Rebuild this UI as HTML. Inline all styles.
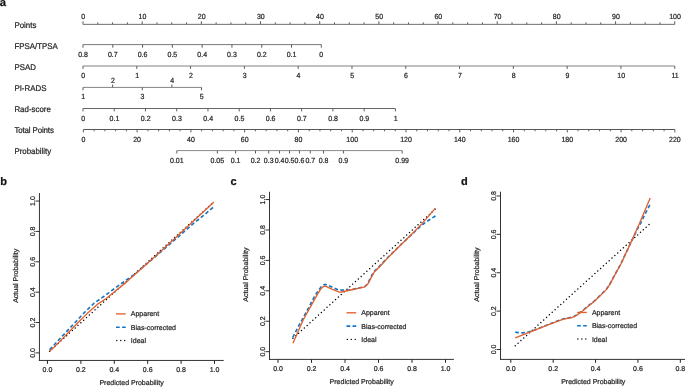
<!DOCTYPE html>
<html><head><meta charset="utf-8"><title>Nomogram and calibration curves</title>
<style>
html,body{margin:0;padding:0;background:#fff;}
body{width:685px;height:387px;overflow:hidden;font-family:"Liberation Sans",sans-serif;}
svg{display:block;will-change:transform;}
svg text{font-family:"Liberation Sans",sans-serif;text-rendering:geometricPrecision;stroke:#262626;stroke-width:0.22px;}
</style></head><body>
<svg width="685" height="387" viewBox="0 0 685 387">

<text transform="translate(14.40 27.60) scale(1 1.06)" font-size="7.9" text-anchor="start" fill="#262626" font-weight="normal">Points</text>
<text transform="translate(14.40 48.50) scale(1 1.06)" font-size="7.9" text-anchor="start" fill="#262626" font-weight="normal">FPSA/TPSA</text>
<text transform="translate(14.40 69.85) scale(1 1.06)" font-size="7.9" text-anchor="start" fill="#262626" font-weight="normal">PSAD</text>
<text transform="translate(14.40 91.15) scale(1 1.06)" font-size="7.9" text-anchor="start" fill="#262626" font-weight="normal">PI-RADS</text>
<text transform="translate(14.40 112.40) scale(1 1.06)" font-size="7.9" text-anchor="start" fill="#262626" font-weight="normal">Rad-score</text>
<text textLength="39.5" lengthAdjust="spacing" transform="translate(14.40 133.45) scale(1 1.06)" font-size="7.9" text-anchor="start" fill="#262626" font-weight="normal">Total Points</text>
<text transform="translate(14.40 153.60) scale(1 1.06)" font-size="7.9" text-anchor="start" fill="#262626" font-weight="normal">Probability</text>
<text x="-0.30" y="6.15" font-size="11.3" text-anchor="start" fill="#111" font-weight="bold">a</text>
<line x1="83.00" y1="24.35" x2="674.75" y2="24.35" stroke="#6e6e6e" stroke-width="1" />
<line x1="83.00" y1="24.35" x2="83.00" y2="21.25" stroke="#5c5c5c" stroke-width="1" />
<text transform="translate(83.30 18.75) scale(1 1.06)" font-size="7.0" text-anchor="middle" fill="#262626" font-weight="normal">0</text>
<line x1="97.79" y1="24.35" x2="97.79" y2="22.35" stroke="#5c5c5c" stroke-width="1" />
<line x1="112.59" y1="24.35" x2="112.59" y2="22.35" stroke="#5c5c5c" stroke-width="1" />
<line x1="127.38" y1="24.35" x2="127.38" y2="22.35" stroke="#5c5c5c" stroke-width="1" />
<line x1="142.18" y1="24.35" x2="142.18" y2="21.25" stroke="#5c5c5c" stroke-width="1" />
<text transform="translate(142.48 18.75) scale(1 1.06)" font-size="7.0" text-anchor="middle" fill="#262626" font-weight="normal">10</text>
<line x1="156.97" y1="24.35" x2="156.97" y2="22.35" stroke="#5c5c5c" stroke-width="1" />
<line x1="171.76" y1="24.35" x2="171.76" y2="22.35" stroke="#5c5c5c" stroke-width="1" />
<line x1="186.56" y1="24.35" x2="186.56" y2="22.35" stroke="#5c5c5c" stroke-width="1" />
<line x1="201.35" y1="24.35" x2="201.35" y2="21.25" stroke="#5c5c5c" stroke-width="1" />
<text transform="translate(201.65 18.75) scale(1 1.06)" font-size="7.0" text-anchor="middle" fill="#262626" font-weight="normal">20</text>
<line x1="216.14" y1="24.35" x2="216.14" y2="22.35" stroke="#5c5c5c" stroke-width="1" />
<line x1="230.94" y1="24.35" x2="230.94" y2="22.35" stroke="#5c5c5c" stroke-width="1" />
<line x1="245.73" y1="24.35" x2="245.73" y2="22.35" stroke="#5c5c5c" stroke-width="1" />
<line x1="260.52" y1="24.35" x2="260.52" y2="21.25" stroke="#5c5c5c" stroke-width="1" />
<text transform="translate(260.82 18.75) scale(1 1.06)" font-size="7.0" text-anchor="middle" fill="#262626" font-weight="normal">30</text>
<line x1="275.32" y1="24.35" x2="275.32" y2="22.35" stroke="#5c5c5c" stroke-width="1" />
<line x1="290.11" y1="24.35" x2="290.11" y2="22.35" stroke="#5c5c5c" stroke-width="1" />
<line x1="304.91" y1="24.35" x2="304.91" y2="22.35" stroke="#5c5c5c" stroke-width="1" />
<line x1="319.70" y1="24.35" x2="319.70" y2="21.25" stroke="#5c5c5c" stroke-width="1" />
<text transform="translate(320.00 18.75) scale(1 1.06)" font-size="7.0" text-anchor="middle" fill="#262626" font-weight="normal">40</text>
<line x1="334.49" y1="24.35" x2="334.49" y2="22.35" stroke="#5c5c5c" stroke-width="1" />
<line x1="349.29" y1="24.35" x2="349.29" y2="22.35" stroke="#5c5c5c" stroke-width="1" />
<line x1="364.08" y1="24.35" x2="364.08" y2="22.35" stroke="#5c5c5c" stroke-width="1" />
<line x1="378.88" y1="24.35" x2="378.88" y2="21.25" stroke="#5c5c5c" stroke-width="1" />
<text transform="translate(379.18 18.75) scale(1 1.06)" font-size="7.0" text-anchor="middle" fill="#262626" font-weight="normal">50</text>
<line x1="393.67" y1="24.35" x2="393.67" y2="22.35" stroke="#5c5c5c" stroke-width="1" />
<line x1="408.46" y1="24.35" x2="408.46" y2="22.35" stroke="#5c5c5c" stroke-width="1" />
<line x1="423.26" y1="24.35" x2="423.26" y2="22.35" stroke="#5c5c5c" stroke-width="1" />
<line x1="438.05" y1="24.35" x2="438.05" y2="21.25" stroke="#5c5c5c" stroke-width="1" />
<text transform="translate(438.35 18.75) scale(1 1.06)" font-size="7.0" text-anchor="middle" fill="#262626" font-weight="normal">60</text>
<line x1="452.84" y1="24.35" x2="452.84" y2="22.35" stroke="#5c5c5c" stroke-width="1" />
<line x1="467.64" y1="24.35" x2="467.64" y2="22.35" stroke="#5c5c5c" stroke-width="1" />
<line x1="482.43" y1="24.35" x2="482.43" y2="22.35" stroke="#5c5c5c" stroke-width="1" />
<line x1="497.23" y1="24.35" x2="497.23" y2="21.25" stroke="#5c5c5c" stroke-width="1" />
<text transform="translate(497.53 18.75) scale(1 1.06)" font-size="7.0" text-anchor="middle" fill="#262626" font-weight="normal">70</text>
<line x1="512.02" y1="24.35" x2="512.02" y2="22.35" stroke="#5c5c5c" stroke-width="1" />
<line x1="526.81" y1="24.35" x2="526.81" y2="22.35" stroke="#5c5c5c" stroke-width="1" />
<line x1="541.61" y1="24.35" x2="541.61" y2="22.35" stroke="#5c5c5c" stroke-width="1" />
<line x1="556.40" y1="24.35" x2="556.40" y2="21.25" stroke="#5c5c5c" stroke-width="1" />
<text transform="translate(556.70 18.75) scale(1 1.06)" font-size="7.0" text-anchor="middle" fill="#262626" font-weight="normal">80</text>
<line x1="571.19" y1="24.35" x2="571.19" y2="22.35" stroke="#5c5c5c" stroke-width="1" />
<line x1="585.99" y1="24.35" x2="585.99" y2="22.35" stroke="#5c5c5c" stroke-width="1" />
<line x1="600.78" y1="24.35" x2="600.78" y2="22.35" stroke="#5c5c5c" stroke-width="1" />
<line x1="615.58" y1="24.35" x2="615.58" y2="21.25" stroke="#5c5c5c" stroke-width="1" />
<text transform="translate(615.88 18.75) scale(1 1.06)" font-size="7.0" text-anchor="middle" fill="#262626" font-weight="normal">90</text>
<line x1="630.37" y1="24.35" x2="630.37" y2="22.35" stroke="#5c5c5c" stroke-width="1" />
<line x1="645.16" y1="24.35" x2="645.16" y2="22.35" stroke="#5c5c5c" stroke-width="1" />
<line x1="659.96" y1="24.35" x2="659.96" y2="22.35" stroke="#5c5c5c" stroke-width="1" />
<line x1="674.75" y1="24.35" x2="674.75" y2="21.25" stroke="#5c5c5c" stroke-width="1" />
<text transform="translate(675.05 18.75) scale(1 1.06)" font-size="7.0" text-anchor="middle" fill="#262626" font-weight="normal">100</text>
<line x1="83.00" y1="44.60" x2="321.32" y2="44.60" stroke="#7a7a7a" stroke-width="1" />
<line x1="83.00" y1="44.60" x2="83.00" y2="47.70" stroke="#5c5c5c" stroke-width="1" />
<text transform="translate(83.00 57.10) scale(1 1.06)" font-size="7.0" text-anchor="middle" fill="#262626" font-weight="normal">0.8</text>
<line x1="112.79" y1="44.60" x2="112.79" y2="47.70" stroke="#5c5c5c" stroke-width="1" />
<text transform="translate(112.79 57.10) scale(1 1.06)" font-size="7.0" text-anchor="middle" fill="#262626" font-weight="normal">0.7</text>
<line x1="142.58" y1="44.60" x2="142.58" y2="47.70" stroke="#5c5c5c" stroke-width="1" />
<text transform="translate(142.58 57.10) scale(1 1.06)" font-size="7.0" text-anchor="middle" fill="#262626" font-weight="normal">0.6</text>
<line x1="172.37" y1="44.60" x2="172.37" y2="47.70" stroke="#5c5c5c" stroke-width="1" />
<text transform="translate(172.37 57.10) scale(1 1.06)" font-size="7.0" text-anchor="middle" fill="#262626" font-weight="normal">0.5</text>
<line x1="202.16" y1="44.60" x2="202.16" y2="47.70" stroke="#5c5c5c" stroke-width="1" />
<text transform="translate(202.16 57.10) scale(1 1.06)" font-size="7.0" text-anchor="middle" fill="#262626" font-weight="normal">0.4</text>
<line x1="231.95" y1="44.60" x2="231.95" y2="47.70" stroke="#5c5c5c" stroke-width="1" />
<text transform="translate(231.95 57.10) scale(1 1.06)" font-size="7.0" text-anchor="middle" fill="#262626" font-weight="normal">0.3</text>
<line x1="261.74" y1="44.60" x2="261.74" y2="47.70" stroke="#5c5c5c" stroke-width="1" />
<text transform="translate(261.74 57.10) scale(1 1.06)" font-size="7.0" text-anchor="middle" fill="#262626" font-weight="normal">0.2</text>
<line x1="291.53" y1="44.60" x2="291.53" y2="47.70" stroke="#5c5c5c" stroke-width="1" />
<text transform="translate(291.53 57.10) scale(1 1.06)" font-size="7.0" text-anchor="middle" fill="#262626" font-weight="normal">0.1</text>
<line x1="321.32" y1="44.60" x2="321.32" y2="47.70" stroke="#5c5c5c" stroke-width="1" />
<text transform="translate(321.32 57.10) scale(1 1.06)" font-size="7.0" text-anchor="middle" fill="#262626" font-weight="normal">0</text>
<line x1="83.00" y1="66.00" x2="674.75" y2="66.00" stroke="#818181" stroke-width="1" />
<line x1="83.00" y1="66.00" x2="83.00" y2="68.90" stroke="#5c5c5c" stroke-width="1" />
<text transform="translate(83.30 78.20) scale(1 1.06)" font-size="7.0" text-anchor="middle" fill="#262626" font-weight="normal">0</text>
<line x1="136.80" y1="66.00" x2="136.80" y2="68.90" stroke="#5c5c5c" stroke-width="1" />
<text transform="translate(137.10 78.20) scale(1 1.06)" font-size="7.0" text-anchor="middle" fill="#262626" font-weight="normal">1</text>
<line x1="190.59" y1="66.00" x2="190.59" y2="68.90" stroke="#5c5c5c" stroke-width="1" />
<text transform="translate(190.89 78.20) scale(1 1.06)" font-size="7.0" text-anchor="middle" fill="#262626" font-weight="normal">2</text>
<line x1="244.39" y1="66.00" x2="244.39" y2="68.90" stroke="#5c5c5c" stroke-width="1" />
<text transform="translate(244.69 78.20) scale(1 1.06)" font-size="7.0" text-anchor="middle" fill="#262626" font-weight="normal">3</text>
<line x1="298.18" y1="66.00" x2="298.18" y2="68.90" stroke="#5c5c5c" stroke-width="1" />
<text transform="translate(298.48 78.20) scale(1 1.06)" font-size="7.0" text-anchor="middle" fill="#262626" font-weight="normal">4</text>
<line x1="351.98" y1="66.00" x2="351.98" y2="68.90" stroke="#5c5c5c" stroke-width="1" />
<text transform="translate(352.28 78.20) scale(1 1.06)" font-size="7.0" text-anchor="middle" fill="#262626" font-weight="normal">5</text>
<line x1="405.77" y1="66.00" x2="405.77" y2="68.90" stroke="#5c5c5c" stroke-width="1" />
<text transform="translate(406.07 78.20) scale(1 1.06)" font-size="7.0" text-anchor="middle" fill="#262626" font-weight="normal">6</text>
<line x1="459.57" y1="66.00" x2="459.57" y2="68.90" stroke="#5c5c5c" stroke-width="1" />
<text transform="translate(459.87 78.20) scale(1 1.06)" font-size="7.0" text-anchor="middle" fill="#262626" font-weight="normal">7</text>
<line x1="513.36" y1="66.00" x2="513.36" y2="68.90" stroke="#5c5c5c" stroke-width="1" />
<text transform="translate(513.66 78.20) scale(1 1.06)" font-size="7.0" text-anchor="middle" fill="#262626" font-weight="normal">8</text>
<line x1="567.16" y1="66.00" x2="567.16" y2="68.90" stroke="#5c5c5c" stroke-width="1" />
<text transform="translate(567.46 78.20) scale(1 1.06)" font-size="7.0" text-anchor="middle" fill="#262626" font-weight="normal">9</text>
<line x1="620.95" y1="66.00" x2="620.95" y2="68.90" stroke="#5c5c5c" stroke-width="1" />
<text transform="translate(621.25 78.20) scale(1 1.06)" font-size="7.0" text-anchor="middle" fill="#262626" font-weight="normal">10</text>
<line x1="674.75" y1="66.00" x2="674.75" y2="68.90" stroke="#5c5c5c" stroke-width="1" />
<text transform="translate(675.05 78.20) scale(1 1.06)" font-size="7.0" text-anchor="middle" fill="#262626" font-weight="normal">11</text>
<line x1="83.00" y1="87.40" x2="201.52" y2="87.40" stroke="#858585" stroke-width="1" />
<line x1="83.00" y1="87.40" x2="83.00" y2="90.30" stroke="#5c5c5c" stroke-width="1" />
<text transform="translate(83.20 99.40) scale(1 1.06)" font-size="7.0" text-anchor="middle" fill="#262626" font-weight="normal">1</text>
<line x1="112.63" y1="87.40" x2="112.63" y2="84.50" stroke="#5c5c5c" stroke-width="1" />
<text transform="translate(112.83 82.50) scale(1 1.06)" font-size="7.0" text-anchor="middle" fill="#262626" font-weight="normal">2</text>
<line x1="142.26" y1="87.40" x2="142.26" y2="90.30" stroke="#5c5c5c" stroke-width="1" />
<text transform="translate(142.46 99.40) scale(1 1.06)" font-size="7.0" text-anchor="middle" fill="#262626" font-weight="normal">3</text>
<line x1="171.89" y1="87.40" x2="171.89" y2="84.50" stroke="#5c5c5c" stroke-width="1" />
<text transform="translate(172.09 82.50) scale(1 1.06)" font-size="7.0" text-anchor="middle" fill="#262626" font-weight="normal">4</text>
<line x1="201.52" y1="87.40" x2="201.52" y2="90.30" stroke="#5c5c5c" stroke-width="1" />
<text transform="translate(201.72 99.40) scale(1 1.06)" font-size="7.0" text-anchor="middle" fill="#262626" font-weight="normal">5</text>
<line x1="83.00" y1="108.50" x2="395.40" y2="108.50" stroke="#666666" stroke-width="1" />
<line x1="83.00" y1="108.50" x2="83.00" y2="111.40" stroke="#5c5c5c" stroke-width="1" />
<text transform="translate(83.20 120.80) scale(1 1.06)" font-size="7.0" text-anchor="middle" fill="#262626" font-weight="normal">0</text>
<line x1="114.24" y1="108.50" x2="114.24" y2="111.40" stroke="#5c5c5c" stroke-width="1" />
<text transform="translate(114.44 120.80) scale(1 1.06)" font-size="7.0" text-anchor="middle" fill="#262626" font-weight="normal">0.1</text>
<line x1="145.48" y1="108.50" x2="145.48" y2="111.40" stroke="#5c5c5c" stroke-width="1" />
<text transform="translate(145.68 120.80) scale(1 1.06)" font-size="7.0" text-anchor="middle" fill="#262626" font-weight="normal">0.2</text>
<line x1="176.72" y1="108.50" x2="176.72" y2="111.40" stroke="#5c5c5c" stroke-width="1" />
<text transform="translate(176.92 120.80) scale(1 1.06)" font-size="7.0" text-anchor="middle" fill="#262626" font-weight="normal">0.3</text>
<line x1="207.96" y1="108.50" x2="207.96" y2="111.40" stroke="#5c5c5c" stroke-width="1" />
<text transform="translate(208.16 120.80) scale(1 1.06)" font-size="7.0" text-anchor="middle" fill="#262626" font-weight="normal">0.4</text>
<line x1="239.20" y1="108.50" x2="239.20" y2="111.40" stroke="#5c5c5c" stroke-width="1" />
<text transform="translate(239.40 120.80) scale(1 1.06)" font-size="7.0" text-anchor="middle" fill="#262626" font-weight="normal">0.5</text>
<line x1="270.44" y1="108.50" x2="270.44" y2="111.40" stroke="#5c5c5c" stroke-width="1" />
<text transform="translate(270.64 120.80) scale(1 1.06)" font-size="7.0" text-anchor="middle" fill="#262626" font-weight="normal">0.6</text>
<line x1="301.68" y1="108.50" x2="301.68" y2="111.40" stroke="#5c5c5c" stroke-width="1" />
<text transform="translate(301.88 120.80) scale(1 1.06)" font-size="7.0" text-anchor="middle" fill="#262626" font-weight="normal">0.7</text>
<line x1="332.92" y1="108.50" x2="332.92" y2="111.40" stroke="#5c5c5c" stroke-width="1" />
<text transform="translate(333.12 120.80) scale(1 1.06)" font-size="7.0" text-anchor="middle" fill="#262626" font-weight="normal">0.8</text>
<line x1="364.16" y1="108.50" x2="364.16" y2="111.40" stroke="#5c5c5c" stroke-width="1" />
<text transform="translate(364.36 120.80) scale(1 1.06)" font-size="7.0" text-anchor="middle" fill="#262626" font-weight="normal">0.9</text>
<line x1="395.40" y1="108.50" x2="395.40" y2="111.40" stroke="#5c5c5c" stroke-width="1" />
<text transform="translate(395.60 120.80) scale(1 1.06)" font-size="7.0" text-anchor="middle" fill="#262626" font-weight="normal">1</text>
<line x1="83.35" y1="129.50" x2="674.85" y2="129.50" stroke="#585858" stroke-width="1" />
<line x1="83.35" y1="129.50" x2="83.35" y2="132.40" stroke="#5c5c5c" stroke-width="1" />
<text transform="translate(83.35 141.80) scale(1 1.06)" font-size="7.0" text-anchor="middle" fill="#262626" font-weight="normal">0</text>
<line x1="94.10" y1="129.50" x2="94.10" y2="131.30" stroke="#5c5c5c" stroke-width="1" />
<line x1="104.86" y1="129.50" x2="104.86" y2="131.30" stroke="#5c5c5c" stroke-width="1" />
<line x1="115.61" y1="129.50" x2="115.61" y2="131.30" stroke="#5c5c5c" stroke-width="1" />
<line x1="126.37" y1="129.50" x2="126.37" y2="131.30" stroke="#5c5c5c" stroke-width="1" />
<line x1="137.12" y1="129.50" x2="137.12" y2="132.40" stroke="#5c5c5c" stroke-width="1" />
<text transform="translate(137.12 141.80) scale(1 1.06)" font-size="7.0" text-anchor="middle" fill="#262626" font-weight="normal">20</text>
<line x1="147.88" y1="129.50" x2="147.88" y2="131.30" stroke="#5c5c5c" stroke-width="1" />
<line x1="158.63" y1="129.50" x2="158.63" y2="131.30" stroke="#5c5c5c" stroke-width="1" />
<line x1="169.39" y1="129.50" x2="169.39" y2="131.30" stroke="#5c5c5c" stroke-width="1" />
<line x1="180.14" y1="129.50" x2="180.14" y2="131.30" stroke="#5c5c5c" stroke-width="1" />
<line x1="190.90" y1="129.50" x2="190.90" y2="132.40" stroke="#5c5c5c" stroke-width="1" />
<text transform="translate(190.90 141.80) scale(1 1.06)" font-size="7.0" text-anchor="middle" fill="#262626" font-weight="normal">40</text>
<line x1="201.65" y1="129.50" x2="201.65" y2="131.30" stroke="#5c5c5c" stroke-width="1" />
<line x1="212.40" y1="129.50" x2="212.40" y2="131.30" stroke="#5c5c5c" stroke-width="1" />
<line x1="223.16" y1="129.50" x2="223.16" y2="131.30" stroke="#5c5c5c" stroke-width="1" />
<line x1="233.91" y1="129.50" x2="233.91" y2="131.30" stroke="#5c5c5c" stroke-width="1" />
<line x1="244.67" y1="129.50" x2="244.67" y2="132.40" stroke="#5c5c5c" stroke-width="1" />
<text transform="translate(244.67 141.80) scale(1 1.06)" font-size="7.0" text-anchor="middle" fill="#262626" font-weight="normal">60</text>
<line x1="255.42" y1="129.50" x2="255.42" y2="131.30" stroke="#5c5c5c" stroke-width="1" />
<line x1="266.18" y1="129.50" x2="266.18" y2="131.30" stroke="#5c5c5c" stroke-width="1" />
<line x1="276.93" y1="129.50" x2="276.93" y2="131.30" stroke="#5c5c5c" stroke-width="1" />
<line x1="287.69" y1="129.50" x2="287.69" y2="131.30" stroke="#5c5c5c" stroke-width="1" />
<line x1="298.44" y1="129.50" x2="298.44" y2="132.40" stroke="#5c5c5c" stroke-width="1" />
<text transform="translate(298.44 141.80) scale(1 1.06)" font-size="7.0" text-anchor="middle" fill="#262626" font-weight="normal">80</text>
<line x1="309.20" y1="129.50" x2="309.20" y2="131.30" stroke="#5c5c5c" stroke-width="1" />
<line x1="319.95" y1="129.50" x2="319.95" y2="131.30" stroke="#5c5c5c" stroke-width="1" />
<line x1="330.70" y1="129.50" x2="330.70" y2="131.30" stroke="#5c5c5c" stroke-width="1" />
<line x1="341.46" y1="129.50" x2="341.46" y2="131.30" stroke="#5c5c5c" stroke-width="1" />
<line x1="352.21" y1="129.50" x2="352.21" y2="132.40" stroke="#5c5c5c" stroke-width="1" />
<text transform="translate(352.21 141.80) scale(1 1.06)" font-size="7.0" text-anchor="middle" fill="#262626" font-weight="normal">100</text>
<line x1="362.97" y1="129.50" x2="362.97" y2="131.30" stroke="#5c5c5c" stroke-width="1" />
<line x1="373.72" y1="129.50" x2="373.72" y2="131.30" stroke="#5c5c5c" stroke-width="1" />
<line x1="384.48" y1="129.50" x2="384.48" y2="131.30" stroke="#5c5c5c" stroke-width="1" />
<line x1="395.23" y1="129.50" x2="395.23" y2="131.30" stroke="#5c5c5c" stroke-width="1" />
<line x1="405.99" y1="129.50" x2="405.99" y2="132.40" stroke="#5c5c5c" stroke-width="1" />
<text transform="translate(405.99 141.80) scale(1 1.06)" font-size="7.0" text-anchor="middle" fill="#262626" font-weight="normal">120</text>
<line x1="416.74" y1="129.50" x2="416.74" y2="131.30" stroke="#5c5c5c" stroke-width="1" />
<line x1="427.50" y1="129.50" x2="427.50" y2="131.30" stroke="#5c5c5c" stroke-width="1" />
<line x1="438.25" y1="129.50" x2="438.25" y2="131.30" stroke="#5c5c5c" stroke-width="1" />
<line x1="449.00" y1="129.50" x2="449.00" y2="131.30" stroke="#5c5c5c" stroke-width="1" />
<line x1="459.76" y1="129.50" x2="459.76" y2="132.40" stroke="#5c5c5c" stroke-width="1" />
<text transform="translate(459.76 141.80) scale(1 1.06)" font-size="7.0" text-anchor="middle" fill="#262626" font-weight="normal">140</text>
<line x1="470.51" y1="129.50" x2="470.51" y2="131.30" stroke="#5c5c5c" stroke-width="1" />
<line x1="481.27" y1="129.50" x2="481.27" y2="131.30" stroke="#5c5c5c" stroke-width="1" />
<line x1="492.02" y1="129.50" x2="492.02" y2="131.30" stroke="#5c5c5c" stroke-width="1" />
<line x1="502.78" y1="129.50" x2="502.78" y2="131.30" stroke="#5c5c5c" stroke-width="1" />
<line x1="513.53" y1="129.50" x2="513.53" y2="132.40" stroke="#5c5c5c" stroke-width="1" />
<text transform="translate(513.53 141.80) scale(1 1.06)" font-size="7.0" text-anchor="middle" fill="#262626" font-weight="normal">160</text>
<line x1="524.29" y1="129.50" x2="524.29" y2="131.30" stroke="#5c5c5c" stroke-width="1" />
<line x1="535.04" y1="129.50" x2="535.04" y2="131.30" stroke="#5c5c5c" stroke-width="1" />
<line x1="545.80" y1="129.50" x2="545.80" y2="131.30" stroke="#5c5c5c" stroke-width="1" />
<line x1="556.55" y1="129.50" x2="556.55" y2="131.30" stroke="#5c5c5c" stroke-width="1" />
<line x1="567.30" y1="129.50" x2="567.30" y2="132.40" stroke="#5c5c5c" stroke-width="1" />
<text transform="translate(567.30 141.80) scale(1 1.06)" font-size="7.0" text-anchor="middle" fill="#262626" font-weight="normal">180</text>
<line x1="578.06" y1="129.50" x2="578.06" y2="131.30" stroke="#5c5c5c" stroke-width="1" />
<line x1="588.81" y1="129.50" x2="588.81" y2="131.30" stroke="#5c5c5c" stroke-width="1" />
<line x1="599.57" y1="129.50" x2="599.57" y2="131.30" stroke="#5c5c5c" stroke-width="1" />
<line x1="610.32" y1="129.50" x2="610.32" y2="131.30" stroke="#5c5c5c" stroke-width="1" />
<line x1="621.08" y1="129.50" x2="621.08" y2="132.40" stroke="#5c5c5c" stroke-width="1" />
<text transform="translate(621.08 141.80) scale(1 1.06)" font-size="7.0" text-anchor="middle" fill="#262626" font-weight="normal">200</text>
<line x1="631.83" y1="129.50" x2="631.83" y2="131.30" stroke="#5c5c5c" stroke-width="1" />
<line x1="642.59" y1="129.50" x2="642.59" y2="131.30" stroke="#5c5c5c" stroke-width="1" />
<line x1="653.34" y1="129.50" x2="653.34" y2="131.30" stroke="#5c5c5c" stroke-width="1" />
<line x1="664.10" y1="129.50" x2="664.10" y2="131.30" stroke="#5c5c5c" stroke-width="1" />
<line x1="674.85" y1="129.50" x2="674.85" y2="132.40" stroke="#5c5c5c" stroke-width="1" />
<text transform="translate(674.85 141.80) scale(1 1.06)" font-size="7.0" text-anchor="middle" fill="#262626" font-weight="normal">220</text>
<line x1="176.83" y1="150.60" x2="402.17" y2="150.60" stroke="#8a8a8a" stroke-width="1" />
<line x1="176.83" y1="150.60" x2="176.83" y2="153.50" stroke="#5c5c5c" stroke-width="1" />
<text transform="translate(176.83 163.10) scale(1 1.06)" font-size="7.0" text-anchor="middle" fill="#262626" font-weight="normal">0.01</text>
<line x1="217.30" y1="150.60" x2="217.30" y2="153.50" stroke="#5c5c5c" stroke-width="1" />
<text transform="translate(217.30 163.10) scale(1 1.06)" font-size="7.0" text-anchor="middle" fill="#262626" font-weight="normal">0.05</text>
<line x1="235.62" y1="150.60" x2="235.62" y2="153.50" stroke="#5c5c5c" stroke-width="1" />
<text transform="translate(235.62 163.10) scale(1 1.06)" font-size="7.0" text-anchor="middle" fill="#262626" font-weight="normal">0.1</text>
<line x1="255.51" y1="150.60" x2="255.51" y2="153.50" stroke="#5c5c5c" stroke-width="1" />
<text transform="translate(255.51 163.10) scale(1 1.06)" font-size="7.0" text-anchor="middle" fill="#262626" font-weight="normal">0.2</text>
<line x1="268.72" y1="150.60" x2="268.72" y2="153.50" stroke="#5c5c5c" stroke-width="1" />
<text transform="translate(268.72 163.10) scale(1 1.06)" font-size="7.0" text-anchor="middle" fill="#262626" font-weight="normal">0.3</text>
<line x1="279.56" y1="150.60" x2="279.56" y2="153.50" stroke="#5c5c5c" stroke-width="1" />
<text transform="translate(279.56 163.10) scale(1 1.06)" font-size="7.0" text-anchor="middle" fill="#262626" font-weight="normal">0.4</text>
<line x1="289.50" y1="150.60" x2="289.50" y2="153.50" stroke="#5c5c5c" stroke-width="1" />
<text transform="translate(289.50 163.10) scale(1 1.06)" font-size="7.0" text-anchor="middle" fill="#262626" font-weight="normal">0.5</text>
<line x1="299.44" y1="150.60" x2="299.44" y2="153.50" stroke="#5c5c5c" stroke-width="1" />
<text transform="translate(299.44 163.10) scale(1 1.06)" font-size="7.0" text-anchor="middle" fill="#262626" font-weight="normal">0.6</text>
<line x1="310.28" y1="150.60" x2="310.28" y2="153.50" stroke="#5c5c5c" stroke-width="1" />
<text transform="translate(310.28 163.10) scale(1 1.06)" font-size="7.0" text-anchor="middle" fill="#262626" font-weight="normal">0.7</text>
<line x1="323.49" y1="150.60" x2="323.49" y2="153.50" stroke="#5c5c5c" stroke-width="1" />
<text transform="translate(323.49 163.10) scale(1 1.06)" font-size="7.0" text-anchor="middle" fill="#262626" font-weight="normal">0.8</text>
<line x1="343.38" y1="150.60" x2="343.38" y2="153.50" stroke="#5c5c5c" stroke-width="1" />
<text transform="translate(343.38 163.10) scale(1 1.06)" font-size="7.0" text-anchor="middle" fill="#262626" font-weight="normal">0.9</text>
<line x1="402.17" y1="150.60" x2="402.17" y2="153.50" stroke="#5c5c5c" stroke-width="1" />
<text transform="translate(402.17 163.10) scale(1 1.06)" font-size="7.0" text-anchor="middle" fill="#262626" font-weight="normal">0.99</text>
<text x="0.30" y="185.00" font-size="11" text-anchor="start" fill="#111" font-weight="bold">b</text>
<line x1="39.45" y1="193.00" x2="39.45" y2="360.95" stroke="#333333" stroke-width="1" />
<line x1="38.95" y1="360.45" x2="223.70" y2="360.45" stroke="#333333" stroke-width="1" />
<line x1="35.55" y1="352.90" x2="39.45" y2="352.90" stroke="#1c1c1c" stroke-width="0.9" />
<text x="34.85" y="352.90" font-size="7.0" text-anchor="middle" fill="#262626" font-weight="normal" transform="rotate(-90 34.85 352.90)">0.0</text>
<line x1="35.55" y1="322.53" x2="39.45" y2="322.53" stroke="#1c1c1c" stroke-width="0.9" />
<text x="34.85" y="322.53" font-size="7.0" text-anchor="middle" fill="#262626" font-weight="normal" transform="rotate(-90 34.85 322.53)">0.2</text>
<line x1="35.55" y1="292.16" x2="39.45" y2="292.16" stroke="#1c1c1c" stroke-width="0.9" />
<text x="34.85" y="292.16" font-size="7.0" text-anchor="middle" fill="#262626" font-weight="normal" transform="rotate(-90 34.85 292.16)">0.4</text>
<line x1="35.55" y1="261.79" x2="39.45" y2="261.79" stroke="#1c1c1c" stroke-width="0.9" />
<text x="34.85" y="261.79" font-size="7.0" text-anchor="middle" fill="#262626" font-weight="normal" transform="rotate(-90 34.85 261.79)">0.6</text>
<line x1="35.55" y1="231.42" x2="39.45" y2="231.42" stroke="#1c1c1c" stroke-width="0.9" />
<text x="34.85" y="231.42" font-size="7.0" text-anchor="middle" fill="#262626" font-weight="normal" transform="rotate(-90 34.85 231.42)">0.8</text>
<line x1="35.55" y1="201.05" x2="39.45" y2="201.05" stroke="#1c1c1c" stroke-width="0.9" />
<text x="34.85" y="201.05" font-size="7.0" text-anchor="middle" fill="#262626" font-weight="normal" transform="rotate(-90 34.85 201.05)">1.0</text>
<line x1="47.45" y1="360.45" x2="47.45" y2="363.85" stroke="#222" stroke-width="1" />
<text x="47.45" y="372.45" font-size="7.0" text-anchor="middle" fill="#262626" font-weight="normal">0.0</text>
<line x1="80.86" y1="360.45" x2="80.86" y2="363.85" stroke="#222" stroke-width="1" />
<text x="80.86" y="372.45" font-size="7.0" text-anchor="middle" fill="#262626" font-weight="normal">0.2</text>
<line x1="114.27" y1="360.45" x2="114.27" y2="363.85" stroke="#222" stroke-width="1" />
<text x="114.27" y="372.45" font-size="7.0" text-anchor="middle" fill="#262626" font-weight="normal">0.4</text>
<line x1="147.68" y1="360.45" x2="147.68" y2="363.85" stroke="#222" stroke-width="1" />
<text x="147.68" y="372.45" font-size="7.0" text-anchor="middle" fill="#262626" font-weight="normal">0.6</text>
<line x1="181.09" y1="360.45" x2="181.09" y2="363.85" stroke="#222" stroke-width="1" />
<text x="181.09" y="372.45" font-size="7.0" text-anchor="middle" fill="#262626" font-weight="normal">0.8</text>
<line x1="214.50" y1="360.45" x2="214.50" y2="363.85" stroke="#222" stroke-width="1" />
<text x="214.50" y="372.45" font-size="7.0" text-anchor="middle" fill="#262626" font-weight="normal">1.0</text>
<text x="131.57" y="385.45" font-size="7.0" text-anchor="middle" fill="#262626" font-weight="normal">Predicted Probability</text>
<text x="17.70" y="275.78" font-size="7.0" text-anchor="middle" fill="#262626" font-weight="normal" transform="rotate(-90 17.70 275.78)">Actual Probability</text>
<path d="M49.60,351.19 L213.97,201.79" fill="none" stroke="#000" stroke-width="1.4" stroke-linejoin="round" stroke-linecap="round" stroke-dasharray="0.01,3.83"/>
<path d="M49.60,349.64 L54.75,344.20 L76.52,320.94 L84.87,312.05 L94.22,303.09 L104.08,296.26 L109.76,292.01 L115.11,288.11 L120.20,284.42 L125.21,280.70 L130.59,277.01 L135.99,273.33 L140.16,269.31 L147.68,263.23 L169.23,244.69 L192.45,224.33 L198.51,219.50 L203.56,215.48 L208.27,211.45 L214.30,206.41" fill="none" stroke="#1174c4" stroke-width="1.6" stroke-linejoin="round" stroke-linecap="butt" stroke-dasharray="3.7,2.4"/>
<path d="M49.60,351.31 L55.40,345.90 L80.59,319.99 L86.87,313.87 L97.56,304.16 L105.92,298.69 L126.70,281.86 L155.60,256.00 L175.29,238.00 L192.45,221.90 L213.97,201.90" fill="none" stroke="#e2602f" stroke-width="1.35" stroke-linejoin="round" stroke-linecap="butt"/>
<line x1="116.00" y1="313.90" x2="125.70" y2="313.90" stroke="#e2602f" stroke-width="1.35" />
<line x1="116.00" y1="327.20" x2="125.70" y2="327.20" stroke="#1174c4" stroke-width="1.6" stroke-dasharray="3.7,2.4"/>
<line x1="116.80" y1="340.50" x2="126.20" y2="340.50" stroke="#000" stroke-width="1.4" stroke-dasharray="0.01,3.95" stroke-linecap="round"/>
<text x="130.80" y="316.40" font-size="7.0" text-anchor="start" fill="#262626" font-weight="normal">Apparent</text>
<text x="130.80" y="329.70" font-size="7.0" text-anchor="start" fill="#262626" font-weight="normal">Bias-corrected</text>
<text x="130.80" y="343.00" font-size="7.0" text-anchor="start" fill="#262626" font-weight="normal">Ideal</text>
<text x="230.50" y="185.35" font-size="11" text-anchor="start" fill="#111" font-weight="bold">c</text>
<line x1="269.50" y1="191.80" x2="269.50" y2="359.90" stroke="#333333" stroke-width="1" />
<line x1="269.00" y1="359.40" x2="453.90" y2="359.40" stroke="#333333" stroke-width="1" />
<line x1="265.60" y1="351.66" x2="269.50" y2="351.66" stroke="#1c1c1c" stroke-width="0.9" />
<text x="264.90" y="351.66" font-size="7.0" text-anchor="middle" fill="#262626" font-weight="normal" transform="rotate(-90 264.90 351.66)">0.0</text>
<line x1="265.60" y1="321.24" x2="269.50" y2="321.24" stroke="#1c1c1c" stroke-width="0.9" />
<text x="264.90" y="321.24" font-size="7.0" text-anchor="middle" fill="#262626" font-weight="normal" transform="rotate(-90 264.90 321.24)">0.2</text>
<line x1="265.60" y1="290.82" x2="269.50" y2="290.82" stroke="#1c1c1c" stroke-width="0.9" />
<text x="264.90" y="290.82" font-size="7.0" text-anchor="middle" fill="#262626" font-weight="normal" transform="rotate(-90 264.90 290.82)">0.4</text>
<line x1="265.60" y1="260.40" x2="269.50" y2="260.40" stroke="#1c1c1c" stroke-width="0.9" />
<text x="264.90" y="260.40" font-size="7.0" text-anchor="middle" fill="#262626" font-weight="normal" transform="rotate(-90 264.90 260.40)">0.6</text>
<line x1="265.60" y1="229.98" x2="269.50" y2="229.98" stroke="#1c1c1c" stroke-width="0.9" />
<text x="264.90" y="229.98" font-size="7.0" text-anchor="middle" fill="#262626" font-weight="normal" transform="rotate(-90 264.90 229.98)">0.8</text>
<line x1="265.60" y1="199.56" x2="269.50" y2="199.56" stroke="#1c1c1c" stroke-width="0.9" />
<text x="264.90" y="199.56" font-size="7.0" text-anchor="middle" fill="#262626" font-weight="normal" transform="rotate(-90 264.90 199.56)">1.0</text>
<line x1="278.00" y1="359.40" x2="278.00" y2="362.80" stroke="#222" stroke-width="1" />
<text x="278.00" y="371.40" font-size="7.0" text-anchor="middle" fill="#262626" font-weight="normal">0.0</text>
<line x1="311.50" y1="359.40" x2="311.50" y2="362.80" stroke="#222" stroke-width="1" />
<text x="311.50" y="371.40" font-size="7.0" text-anchor="middle" fill="#262626" font-weight="normal">0.2</text>
<line x1="345.00" y1="359.40" x2="345.00" y2="362.80" stroke="#222" stroke-width="1" />
<text x="345.00" y="371.40" font-size="7.0" text-anchor="middle" fill="#262626" font-weight="normal">0.4</text>
<line x1="378.50" y1="359.40" x2="378.50" y2="362.80" stroke="#222" stroke-width="1" />
<text x="378.50" y="371.40" font-size="7.0" text-anchor="middle" fill="#262626" font-weight="normal">0.6</text>
<line x1="412.00" y1="359.40" x2="412.00" y2="362.80" stroke="#222" stroke-width="1" />
<text x="412.00" y="371.40" font-size="7.0" text-anchor="middle" fill="#262626" font-weight="normal">0.8</text>
<line x1="445.50" y1="359.40" x2="445.50" y2="362.80" stroke="#222" stroke-width="1" />
<text x="445.50" y="371.40" font-size="7.0" text-anchor="middle" fill="#262626" font-weight="normal">1.0</text>
<text x="361.70" y="384.40" font-size="7.0" text-anchor="middle" fill="#262626" font-weight="normal">Predicted Probability</text>
<text x="247.75" y="274.65" font-size="7.0" text-anchor="middle" fill="#262626" font-weight="normal" transform="rotate(-90 247.75 274.65)">Actual Probability</text>
<path d="M292.94,338.34 L435.27,209.10" fill="none" stroke="#000" stroke-width="1.4" stroke-linejoin="round" stroke-linecap="round" stroke-dasharray="0.01,3.83"/>
<path d="M292.74,337.51 L299.11,325.00 L302.00,319.99 L311.43,302.50 L314.13,297.10 L317.70,291.43 L321.52,286.41 L323.73,284.89 L325.54,284.40 L327.41,284.96 L332.61,287.40 L338.63,290.11 L345.00,289.98 L350.02,289.83 L352.81,289.38 L364.90,286.49 L367.78,283.50 L370.29,278.10 L373.64,272.01 L379.00,266.70 L387.76,257.51 L400.27,245.19 L413.94,232.49 L419.54,227.17 L424.85,222.85 L429.91,219.50 L434.61,216.50 L435.62,215.83" fill="none" stroke="#1174c4" stroke-width="1.6" stroke-linejoin="round" stroke-linecap="butt" stroke-dasharray="3.7,2.4"/>
<path d="M292.94,343.17 L303.14,319.99 L312.10,303.90 L317.14,294.81 L321.20,288.40 L323.23,286.71 L324.87,286.20 L326.57,286.71 L331.90,289.10 L339.31,292.20 L341.40,292.01 L352.81,289.50 L364.90,286.80 L368.20,283.50 L370.90,278.10 L374.30,272.01 L379.66,266.70 L387.76,257.86 L413.94,232.00 L421.83,223.87 L435.27,208.40" fill="none" stroke="#e2602f" stroke-width="1.35" stroke-linejoin="round" stroke-linecap="butt"/>
<line x1="346.50" y1="312.80" x2="356.20" y2="312.80" stroke="#e2602f" stroke-width="1.35" />
<line x1="346.50" y1="326.10" x2="356.20" y2="326.10" stroke="#1174c4" stroke-width="1.6" stroke-dasharray="3.7,2.4"/>
<line x1="347.30" y1="339.40" x2="356.70" y2="339.40" stroke="#000" stroke-width="1.4" stroke-dasharray="0.01,3.95" stroke-linecap="round"/>
<text x="361.30" y="315.30" font-size="7.0" text-anchor="start" fill="#262626" font-weight="normal">Apparent</text>
<text x="361.30" y="328.60" font-size="7.0" text-anchor="start" fill="#262626" font-weight="normal">Bias-corrected</text>
<text x="361.30" y="341.90" font-size="7.0" text-anchor="start" fill="#262626" font-weight="normal">Ideal</text>
<text x="461.00" y="185.00" font-size="11" text-anchor="start" fill="#111" font-weight="bold">d</text>
<line x1="500.50" y1="191.70" x2="500.50" y2="359.90" stroke="#333333" stroke-width="1" />
<line x1="500.00" y1="359.40" x2="686.00" y2="359.40" stroke="#333333" stroke-width="1" />
<line x1="496.60" y1="349.50" x2="500.50" y2="349.50" stroke="#1c1c1c" stroke-width="0.9" />
<text x="495.90" y="349.50" font-size="7.0" text-anchor="middle" fill="#262626" font-weight="normal" transform="rotate(-90 495.90 349.50)">0.0</text>
<line x1="496.60" y1="311.12" x2="500.50" y2="311.12" stroke="#1c1c1c" stroke-width="0.9" />
<text x="495.90" y="311.12" font-size="7.0" text-anchor="middle" fill="#262626" font-weight="normal" transform="rotate(-90 495.90 311.12)">0.2</text>
<line x1="496.60" y1="272.74" x2="500.50" y2="272.74" stroke="#1c1c1c" stroke-width="0.9" />
<text x="495.90" y="272.74" font-size="7.0" text-anchor="middle" fill="#262626" font-weight="normal" transform="rotate(-90 495.90 272.74)">0.4</text>
<line x1="496.60" y1="234.36" x2="500.50" y2="234.36" stroke="#1c1c1c" stroke-width="0.9" />
<text x="495.90" y="234.36" font-size="7.0" text-anchor="middle" fill="#262626" font-weight="normal" transform="rotate(-90 495.90 234.36)">0.6</text>
<line x1="496.60" y1="195.98" x2="500.50" y2="195.98" stroke="#1c1c1c" stroke-width="0.9" />
<text x="495.90" y="195.98" font-size="7.0" text-anchor="middle" fill="#262626" font-weight="normal" transform="rotate(-90 495.90 195.98)">0.8</text>
<line x1="510.80" y1="359.40" x2="510.80" y2="362.80" stroke="#222" stroke-width="1" />
<text x="510.80" y="371.40" font-size="7.0" text-anchor="middle" fill="#262626" font-weight="normal">0.0</text>
<line x1="553.18" y1="359.40" x2="553.18" y2="362.80" stroke="#222" stroke-width="1" />
<text x="553.18" y="371.40" font-size="7.0" text-anchor="middle" fill="#262626" font-weight="normal">0.2</text>
<line x1="595.56" y1="359.40" x2="595.56" y2="362.80" stroke="#222" stroke-width="1" />
<text x="595.56" y="371.40" font-size="7.0" text-anchor="middle" fill="#262626" font-weight="normal">0.4</text>
<line x1="637.94" y1="359.40" x2="637.94" y2="362.80" stroke="#222" stroke-width="1" />
<text x="637.94" y="371.40" font-size="7.0" text-anchor="middle" fill="#262626" font-weight="normal">0.6</text>
<line x1="680.32" y1="359.40" x2="680.32" y2="362.80" stroke="#222" stroke-width="1" />
<text x="680.32" y="371.40" font-size="7.0" text-anchor="middle" fill="#262626" font-weight="normal">0.8</text>
<text x="593.25" y="384.40" font-size="7.0" text-anchor="middle" fill="#262626" font-weight="normal">Predicted Probability</text>
<text x="478.75" y="274.60" font-size="7.0" text-anchor="middle" fill="#262626" font-weight="normal" transform="rotate(-90 478.75 274.60)">Actual Probability</text>
<path d="M515.23,345.74 L650.02,223.67" fill="none" stroke="#000" stroke-width="1.4" stroke-linejoin="round" stroke-linecap="round" stroke-dasharray="0.01,3.83"/>
<path d="M515.25,331.94 L516.61,332.40 L522.75,332.90 L529.11,331.75 L534.11,330.21 L550.00,323.79 L563.44,318.80 L572.17,317.07 L574.37,316.21 L576.85,314.77 L581.57,311.41 L587.59,306.32 L595.01,300.37 L606.13,289.53 L609.97,283.77 L613.53,277.15 L620.90,263.72 L627.47,249.81 L632.49,239.25 L637.50,228.99 L640.99,222.56 L643.81,216.71 L646.69,210.97 L649.59,205.38 L650.21,204.37" fill="none" stroke="#1174c4" stroke-width="1.6" stroke-linejoin="round" stroke-linecap="butt" stroke-dasharray="3.7,2.4"/>
<path d="M515.24,337.80 L550.00,324.17 L563.44,319.16 L572.17,317.47 L574.37,316.59 L576.85,315.09 L581.57,311.77 L587.59,306.71 L595.01,300.70 L606.13,289.86 L609.97,284.06 L613.53,277.42 L620.90,263.99 L627.47,249.87 L632.49,239.10 L637.50,227.80 L639.23,224.00 L650.21,197.96" fill="none" stroke="#e2602f" stroke-width="1.35" stroke-linejoin="round" stroke-linecap="butt"/>
<line x1="577.10" y1="312.45" x2="586.80" y2="312.45" stroke="#e2602f" stroke-width="1.35" />
<line x1="577.10" y1="325.75" x2="586.80" y2="325.75" stroke="#1174c4" stroke-width="1.6" stroke-dasharray="3.7,2.4"/>
<line x1="577.90" y1="339.05" x2="587.30" y2="339.05" stroke="#000" stroke-width="1.4" stroke-dasharray="0.01,3.95" stroke-linecap="round"/>
<text x="591.90" y="314.95" font-size="7.0" text-anchor="start" fill="#262626" font-weight="normal">Apparent</text>
<text x="591.90" y="328.25" font-size="7.0" text-anchor="start" fill="#262626" font-weight="normal">Bias-corrected</text>
<text x="591.90" y="341.55" font-size="7.0" text-anchor="start" fill="#262626" font-weight="normal">Ideal</text>
</svg>
</body></html>
